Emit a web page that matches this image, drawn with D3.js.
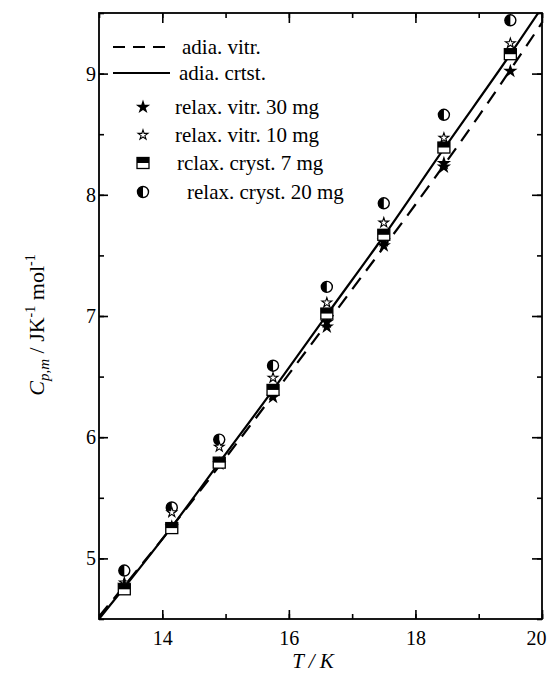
<!DOCTYPE html>
<html><head><meta charset="utf-8">
<script src="https://cdn.jsdelivr.net/npm/d3@7/dist/d3.min.js"></script>
<style>body{margin:0;background:#fff}text{font-family:"Liberation Serif","DejaVu Serif",serif;fill:#000}</style>
</head><body><svg id="c" width="547" height="684"></svg>
<script>
// Data
const T = [13.4, 14.15, 14.9, 15.75, 16.6, 17.5, 18.45, 19.5];
const vitr30 = [4.78, 5.26, 5.78, 6.33, 6.91, 7.58, 8.26, 9.02];
const vitr30b = [null, null, null, null, 6.95, 7.62, 8.23, null];
const vitr10 = [4.80, 5.38, 5.92, 6.49, 7.11, 7.77, 8.47, 9.25];
const cryst7 = [4.745, 5.25, 5.79, 6.39, 7.02, 7.67, 8.39, 9.16];
const cryst20 = [4.90, 5.42, 5.98, 6.59, 7.24, 7.93, 8.66, 9.44];
const adiaCrystT = [13.0, 13.4, 14.15, 14.9, 15.75, 16.6, 17.5, 18.45, 19.5, 19.94];
const adiaCrystV = [4.50, 4.76, 5.26, 5.79, 6.39, 7.01, 7.66, 8.38, 9.16, 9.50];
const adiaVitrT = [13.0, 14.0, 15.0, 16.0, 17.0, 18.0, 19.0, 20.0];
const adiaVitrV = [4.52, 5.16, 5.83, 6.52, 7.22, 7.92, 8.65, 9.42];
const xTicks = [14, 16, 18, 20];
const yTicks = [5, 6, 7, 8, 9];
const legendLabels = ["adia. vitr.", "adia. crtst.", "relax. vitr. 30 mg", "relax. vitr. 10 mg", "rclax. cryst. 7 mg", "relax. cryst. 20 mg"];

const svg = d3.select("#c");
const L = 99, R = 542, TOP = 13, B = 619;
const x = d3.scaleLinear().domain([13, 20]).range([L, R]);
const y = d3.scaleLinear().domain([4.5, 9.5]).range([B, TOP]);

svg.append("clipPath").attr("id", "clp").append("rect").attr("x", L).attr("y", TOP).attr("width", R - L).attr("height", B - TOP);

function styleAxis(g) {
  g.select(".domain").remove();
  g.selectAll("line").attr("stroke", "#000").attr("stroke-width", 1.6);
  g.selectAll("text").attr("font-size", 20).attr("font-family", "Liberation Serif");
}
const xMinor = d3.range(13, 20.01, 1);
const yMinor = d3.range(4.5, 9.51, 0.5);
// bottom
let g = svg.append("g").attr("transform", `translate(0,${B})`).call(d3.axisBottom(x).tickValues(xMinor).tickSize(-5).tickFormat(""));
styleAxis(g);
g = svg.append("g").attr("transform", `translate(0,${B})`).call(d3.axisBottom(x).tickValues(xTicks).tickSize(-9).tickFormat(d3.format("d")));
styleAxis(g);
g.selectAll("text").attr("y", 26).attr("dy", 0)
  .attr("dx", d => d === 20 ? -6 : 0);
// top
g = svg.append("g").attr("transform", `translate(0,${TOP})`).call(d3.axisTop(x).tickValues(xMinor).tickSize(-5).tickFormat(""));
styleAxis(g);
g = svg.append("g").attr("transform", `translate(0,${TOP})`).call(d3.axisTop(x).tickValues(xTicks).tickSize(-10).tickFormat(""));
styleAxis(g);
// left
g = svg.append("g").attr("transform", `translate(${L},0)`).call(d3.axisLeft(y).tickValues(yMinor).tickSize(-5).tickFormat(""));
styleAxis(g);
g = svg.append("g").attr("transform", `translate(${L},0)`).call(d3.axisLeft(y).tickValues(yTicks).tickSize(-9).tickFormat(d3.format("d")));
styleAxis(g); g.selectAll("text").attr("x", -3);
// right
g = svg.append("g").attr("transform", `translate(${R},0)`).call(d3.axisRight(y).tickValues(yMinor).tickSize(-5).tickFormat(""));
styleAxis(g);
g = svg.append("g").attr("transform", `translate(${R},0)`).call(d3.axisRight(y).tickValues(yTicks).tickSize(-10).tickFormat(""));
styleAxis(g);

// frame
svg.append("rect").attr("x", L).attr("y", TOP).attr("width", R - L).attr("height", B - TOP)
  .attr("fill", "none").attr("stroke", "#000").attr("stroke-width", 1.8);

// lines
const line = d3.line().x(d => x(d[0])).y(d => y(d[1])).curve(d3.curveMonotoneX);
const plot = svg.append("g").attr("clip-path", "url(#clp)");
plot.append("path").datum(adiaVitrT.map((t, i) => [t, adiaVitrV[i]])).attr("d", line)
  .attr("fill", "none").attr("stroke", "#000").attr("stroke-width", 2.2).attr("stroke-dasharray", "14,9");
plot.append("path").datum(adiaCrystT.map((t, i) => [t, adiaCrystV[i]])).attr("d", line)
  .attr("fill", "none").attr("stroke", "#000").attr("stroke-width", 2.2);

// markers
function filledStar(sel) { sel.append("path").attr("d", d3.symbol(d3.symbolStar, 64)()).attr("fill", "#000"); }
function hollowStar(sel) { sel.append("path").attr("d", d3.symbol(d3.symbolStar, 30)()).attr("fill", "#fff").attr("stroke", "#000").attr("stroke-width", 1.1); }
function halfSquare(sel) {
  sel.append("rect").attr("x", -6).attr("y", -5.5).attr("width", 12).attr("height", 11).attr("fill", "#fff").attr("stroke", "#000").attr("stroke-width", 1.3);
  sel.append("rect").attr("x", -6).attr("y", -5.5).attr("width", 12).attr("height", 5.5).attr("fill", "#000");
}
function halfCircle(sel) {
  sel.append("circle").attr("r", 5.5).attr("fill", "#fff").attr("stroke", "#000").attr("stroke-width", 1.4);
  sel.append("path").attr("d", d3.arc()({innerRadius: 0, outerRadius: 5.5, startAngle: Math.PI, endAngle: 2 * Math.PI})).attr("fill", "#000");
}
function drawSeries(vals, fn) {
  T.forEach((t, i) => {
    if (vals[i] == null) return;
    const s = svg.append("g").attr("transform", `translate(${x(t)},${y(vals[i])})`);
    fn(s);
  });
}
drawSeries(cryst20, halfCircle);
drawSeries(vitr10, hollowStar);
drawSeries(vitr30, filledStar);
drawSeries(vitr30b, filledStar);
drawSeries(cryst7, halfSquare);

// legend
const legY = [47, 73, 107, 135, 163, 192];
const legX = [182, 179, 175, 175, 177, 187];
const lg = svg.append("g");
lg.append("line").attr("x1", 113).attr("x2", 170).attr("y1", legY[0]).attr("y2", legY[0]).attr("stroke", "#000").attr("stroke-width", 2.2).attr("stroke-dasharray", "12,8");
lg.append("line").attr("x1", 113).attr("x2", 170).attr("y1", legY[1]).attr("y2", legY[1]).attr("stroke", "#000").attr("stroke-width", 2.2);
const markFns = [null, null, filledStar, hollowStar, halfSquare, halfCircle];
for (let i = 2; i < 6; i++) {
  const s = lg.append("g").attr("transform", `translate(143,${legY[i]})`);
  markFns[i](s);
}
legendLabels.forEach((t, i) => {
  lg.append("text").attr("x", legX[i]).attr("y", legY[i] + 7).attr("font-size", 21).text(t);
});

// axis titles
svg.append("text").attr("x", 313).attr("y", 668).attr("text-anchor", "middle").attr("font-size", 21).attr("font-style", "italic").text("T / K");

const yt = svg.append("text").attr("transform", "translate(44,325) rotate(-90)").attr("text-anchor", "middle").attr("font-size", 22);
yt.append("tspan").attr("font-style", "italic").text("C");
yt.append("tspan").attr("font-style", "italic").attr("font-size", 15).attr("dy", 5).text("p,m");
yt.append("tspan").attr("dy", -5).text(" / JK");
yt.append("tspan").attr("font-size", 14).attr("dy", -9).text("-1");
yt.append("tspan").attr("dy", 9).text(" mol");
yt.append("tspan").attr("font-size", 14).attr("dy", -9).text("-1");
</script></body></html>
